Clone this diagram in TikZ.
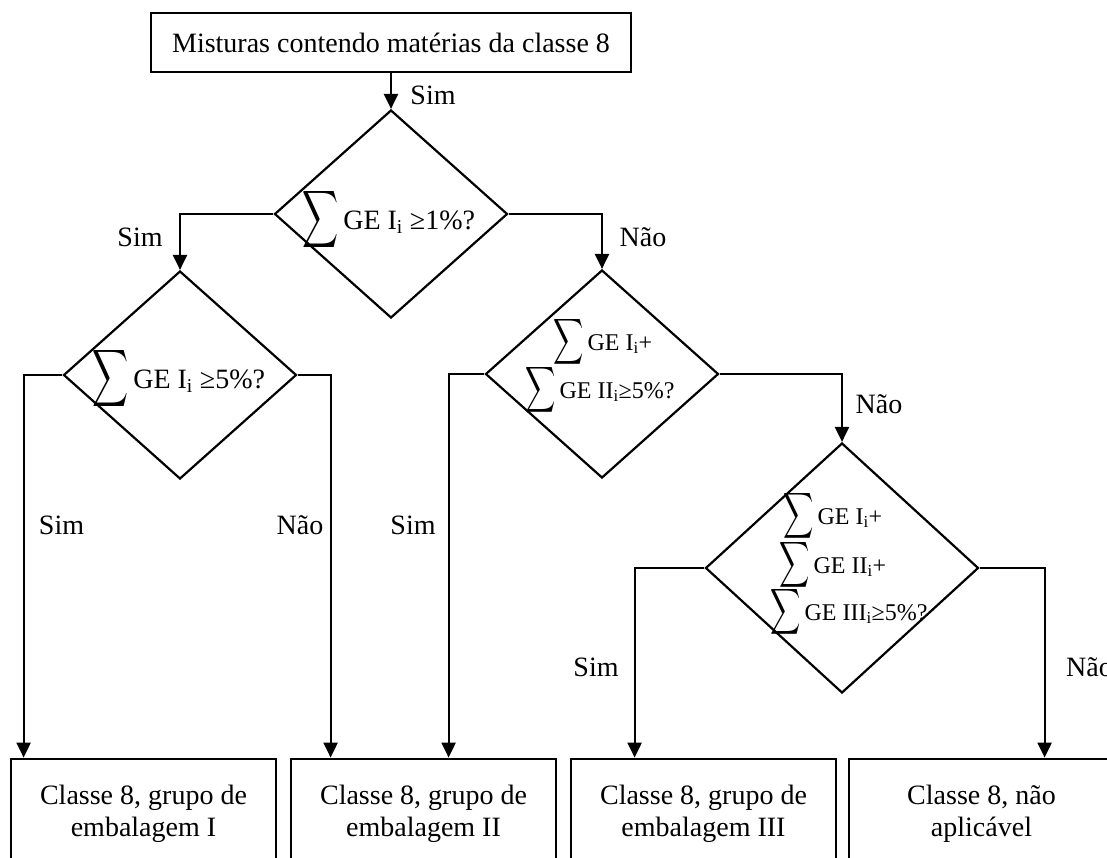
\documentclass[tikz,border=0pt]{standalone}
\usepackage{fontspec}
\setmainfont{Liberation Serif}
\usetikzlibrary{shapes.geometric,
                arrows.meta}

\newcommand{\somat}[2]{\scalebox{#1}[#2]{\normalsize$\displaystyle\sum$}}

\begin{document}
\begin{tikzpicture}[x=1pt,y=-1pt
                    ]
                % define styles
\tikzset{caixa/.style={rectangle,
                       draw=black,
                       line width=2.8pt,
                       inner sep=0,
                       align=center,
                       font=\fontsize{28}{32}\selectfont,
                       },
         decisao/.style={diamond,
                       draw=black,
                       line width=2.2pt,
                       inner sep=0,
                       minimum width=233pt,
                       minimum height=208pt,
                       },
         pergunta/.style={inner sep=0,
                       anchor=base west,
                       font=\fontsize{28}{32}\selectfont,
                       },
         pergunta2/.style={inner sep=0,
                       anchor=base west,
                       font=\fontsize{24}{28}\selectfont,
                       },
         rotulo/.style={inner sep=0,
                       font=\fontsize{28}{32}\selectfont,
                       },
         seta/.style={line width=2.2pt,
                       -{Triangle[length=15pt,width=14pt]},
                       }
}

\useasboundingbox (0,0) rectangle (1107,857);

% boxes
\node[caixa, minimum width=480pt, minimum height=59pt] (mist) at (391,42.5)
    {Misturas contendo matérias da classe 8};
\node[caixa, minimum width=265pt, minimum height=110pt] (b1) at (143.5,814)
    {Classe 8, grupo de\\embalagem I};
\node[caixa, minimum width=265pt, minimum height=110pt] (b2) at (423.5,814)
    {Classe 8, grupo de\\embalagem II};
\node[caixa, minimum width=265pt, minimum height=110pt] (b3) at (703.5,814)
    {Classe 8, grupo de\\embalagem III};
\node[caixa, minimum width=265pt, minimum height=110pt] (b4) at (981.5,814)
    {Classe 8, não\\aplicável};

% decisions
\node[decisao] (d1) at (391,214) {};
\node[decisao] (d2) at (180,375) {};
\node[decisao] (d3) at (602,374) {};
\node[decisao, minimum width=273pt, minimum height=250pt] (d4) at (842,568) {};

% texts of the decisions
\node[pergunta]  (q1)  at (302,229) {\somat{2.5}{4}\hspace{5pt}GE I\textsubscript{i} ≥1\%?};
\node[pergunta]  (q2)  at (92,388)  {\somat{2.5}{4}\hspace{5pt}GE I\textsubscript{i} ≥5\%?};
\node[pergunta2] (q3a) at (553,350) {\somat{2.1}{3.2}\hspace{4pt}GE I\textsubscript{i}+};
\node[pergunta2] (q3b) at (525,398) {\somat{2.1}{3.2}\hspace{4pt}GE II\textsubscript{i}≥5\%?};
\node[pergunta2] (q4a) at (783,524) {\somat{2.1}{3.2}\hspace{4pt}GE I\textsubscript{i}+};
\node[pergunta2] (q4b) at (779,573) {\somat{2.1}{3.2}\hspace{4pt}GE II\textsubscript{i}+};
\node[pergunta2] (q4c) at (770,620) {\somat{2.1}{3.2}\hspace{4pt}GE III\textsubscript{i}≥5\%?};

% connectors
\draw[seta] (mist.south) -- (d1.north);
\draw[seta] (d1.west) -| (d2.north);
\draw[seta] (d1.east) -| (d3.north);
\draw[seta] (d3.east) -| (d4.north);
\draw[seta] (d2.west) -| ([xshift=14pt]b1.north west);
\draw[seta] (d2.east) -| ([xshift=41pt]b2.north west);
\draw[seta] (d3.west) -| ([xshift=159pt]b2.north west);
\draw[seta] (d4.west) -| ([xshift=65pt]b3.north west);
\draw[seta] (d4.east) -| ([xshift=197pt]b4.north west);

% labels
\node[rotulo] (sim0) at (433,95)  {Sim};
\node[rotulo] (sim1) at (140,237) {Sim};
\node[rotulo] (nao1) at (643,237) {Não};
\node[rotulo] (nao3) at (879,404) {Não};
\node[rotulo] (sim2) at (61.5,525) {Sim};
\node[rotulo] (nao2) at (300,525) {Não};
\node[rotulo] (sim3) at (413,525) {Sim};
\node[rotulo] (sim4) at (596,667) {Sim};
\node[rotulo, anchor=west] (nao4) at (1066,667) {Não};

\end{tikzpicture}
\end{document}
